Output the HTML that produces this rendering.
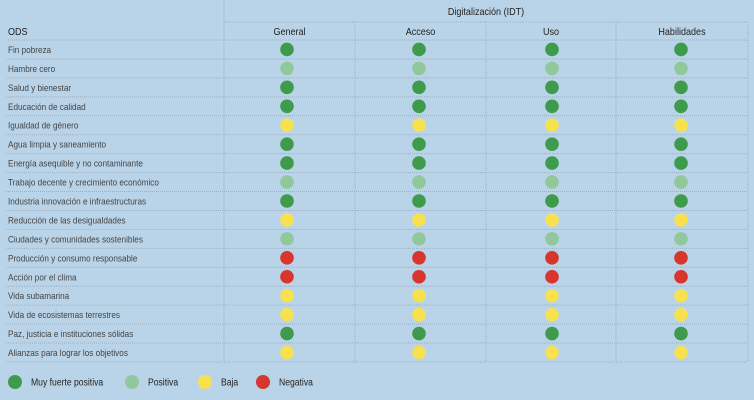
<!DOCTYPE html>
<html><head><meta charset="utf-8"><style>
html,body{margin:0;padding:0;background:#b9d4e8;}
svg{display:block;font-family:"Liberation Sans Narrow","Liberation Sans",sans-serif;}
</style></head><body>
<svg id="c" width="754" height="400">
<rect width="754" height="400" fill="#b9d4e8"/>
</svg>
<script>
const ods=["Fin pobreza","Hambre cero","Salud y bienestar","Educación de calidad","Igualdad de género","Agua limpia y saneamiento","Energía asequible y no contaminante","Trabajo decente y crecimiento económico","Industria innovación e infraestructuras","Reducción de las desigualdades","Ciudades y comunidades sostenibles","Producción y consumo responsable","Acción por el clima","Vida subamarina","Vida de ecosistemas terrestres","Paz, justicia e instituciones sólidas","Alianzas para lograr los objetivos"];
const columns=["General","Acceso","Uso","Habilidades"];
const general=["G","P","G","G","Y","G","G","P","G","Y","P","R","R","Y","Y","G","Y"];
const acceso=["G","P","G","G","Y","G","G","P","G","Y","P","R","R","Y","Y","G","Y"];
const uso=["G","P","G","G","Y","G","G","P","G","Y","P","R","R","Y","Y","G","Y"];
const habilidades=["G","P","G","G","Y","G","G","P","G","Y","P","R","R","Y","Y","G","Y"];
const legendKeys=["G","P","Y","R"];
const legendLabels=["Muy fuerte positiva","Positiva","Baja","Negativa"];
const colors={G:"#3f9b4c",P:"#90c89c",Y:"#f7e14f",R:"#d8352e"};
const series=[general,acceso,uso,habilidades];
const svg=document.getElementById('c');
const NS="http://www.w3.org/2000/svg";
function mk(t,a,txt){const e=document.createElementNS(NS,t);for(const k in a)e.setAttribute(k,a[k]);if(txt!=null)e.textContent=txt;svg.appendChild(e);
 if(t==='text'){const w=e.getComputedTextLength();if(w>0){e.setAttribute('textLength',(w*0.86).toFixed(1));e.setAttribute('lengthAdjust','spacingAndGlyphs');}}
 return e;}
const colX=[224,355,486,616,748];
const rowTop=40,rowH=18.94;
const yRow=i=>rowTop+rowH*i;
const line={stroke:"#9ab0c2","stroke-width":1,"stroke-dasharray":"1,1"};
for(let i=0;i<colX.length;i++){
 const v=mk('line',Object.assign({x1:colX[i],x2:colX[i],y1:i==0?0:22,y2:yRow(ods.length)},line));
 
 
}
let h=mk('line',Object.assign({x1:224,x2:748,y1:22,y2:22},line));


for(let r=0;r<=ods.length;r++){
 const l=mk('line',Object.assign({x1:6,x2:748,y1:yRow(r),y2:yRow(r)},line));
 
 
}
let t=mk('text',{x:486,y:15,"text-anchor":"middle","font-size":10.5,fill:"#222"},"Digitalización (IDT)");


t=mk('text',{x:8,y:35,"font-size":10.5,fill:"#222"},"ODS");


columns.forEach((c,i)=>{
 const e=mk('text',{x:(colX[i]+colX[i+1])/2,y:35,"text-anchor":"middle","font-size":10.5,fill:"#222"},c);
 
 
});
const cx=[287,419,552,681];
ods.forEach((o,r)=>{
 const cy=yRow(r)+rowH/2;
 const e=mk('text',{x:8,y:cy+3.5,"font-size":9.5,fill:"#444"},o);
 
 
 series.forEach((s,i)=>{
  const d=mk('circle',{cx:cx[i],cy:cy,r:6.8,fill:colors[s[r]]});
  
  
 });
});
const lgX=[15,132,205,263];
legendKeys.forEach((k,i)=>{
 const d=mk('circle',{cx:lgX[i],cy:382,r:7,fill:colors[k]});
 
 
 const e=mk('text',{x:lgX[i]+16,y:385.5,"font-size":10,fill:"#222"},legendLabels[i]);
 
 
});
</script>
</body></html>
